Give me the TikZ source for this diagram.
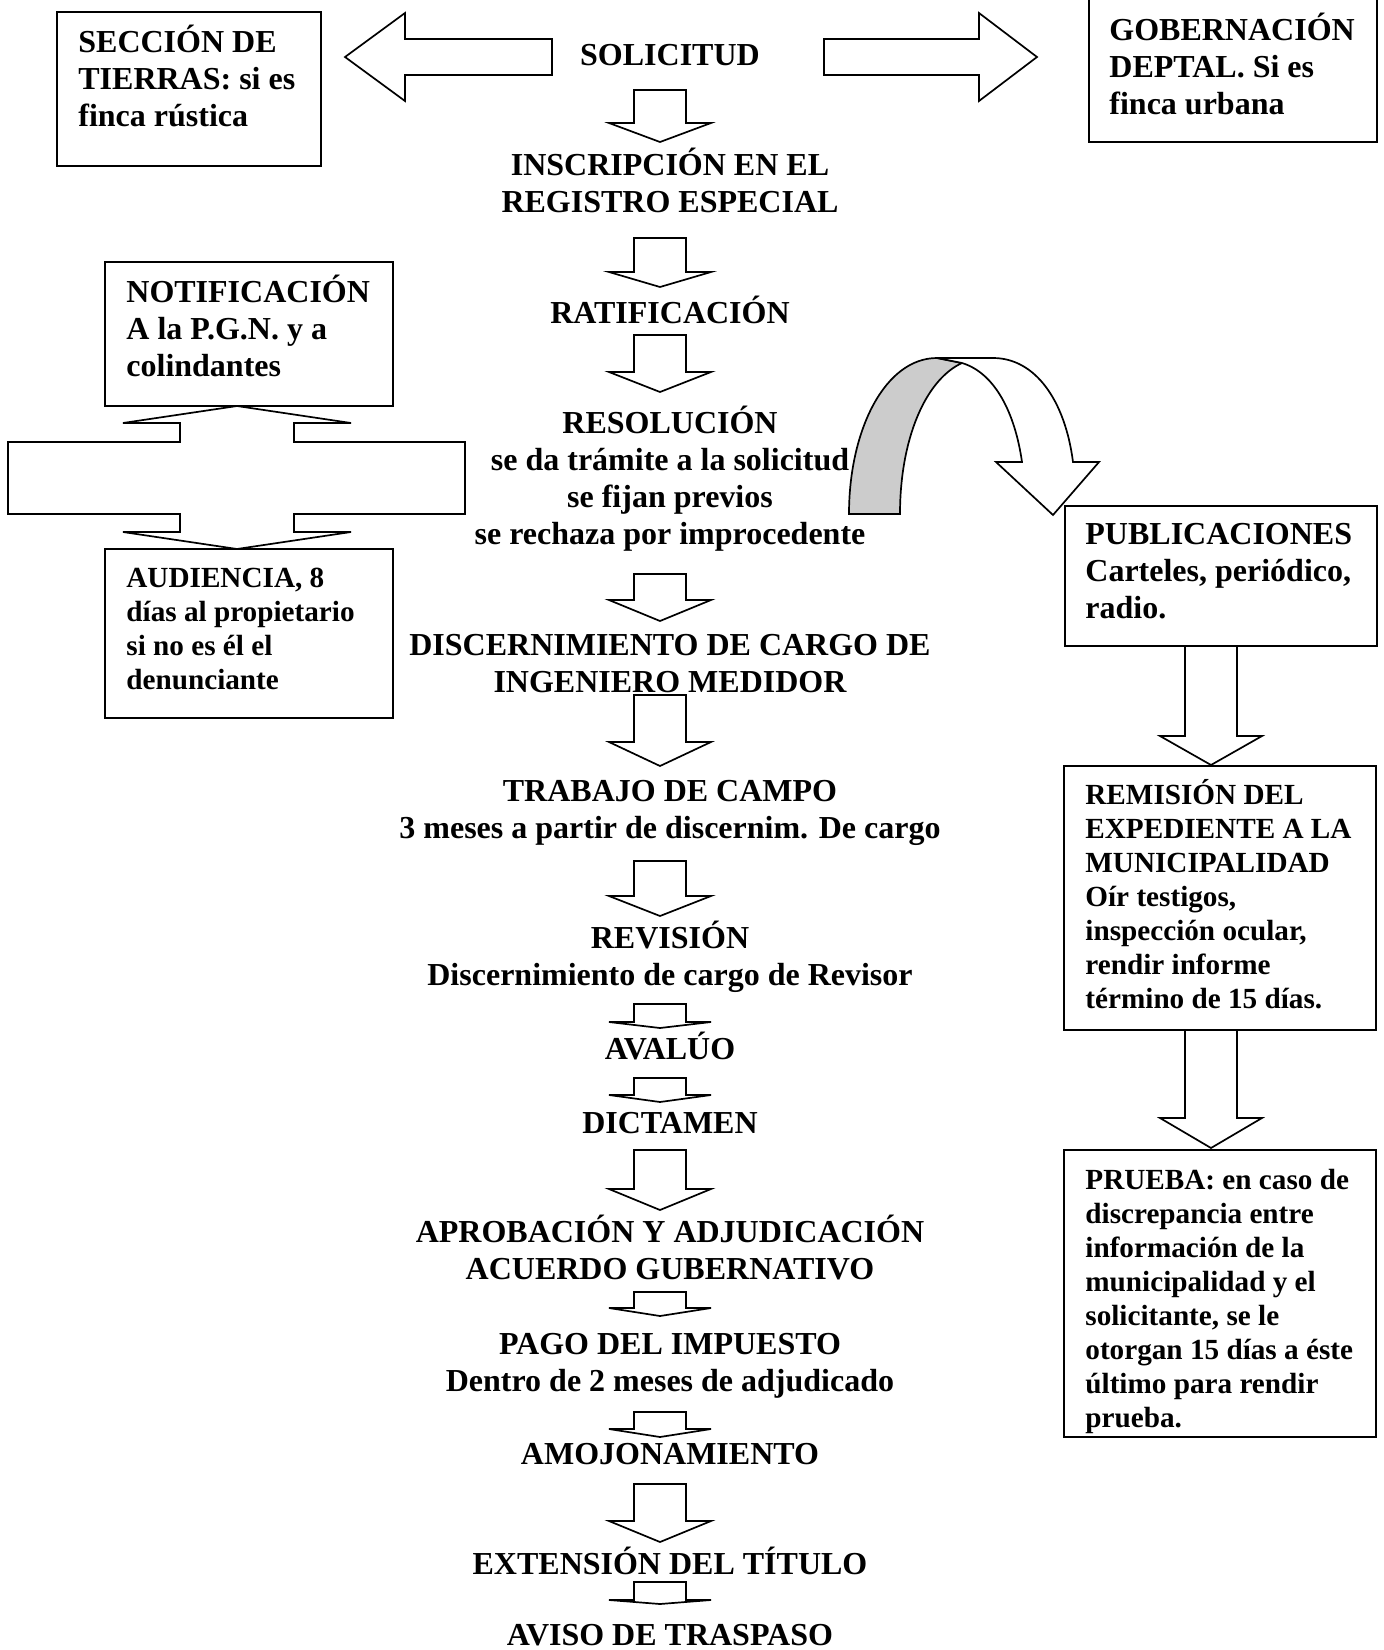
\documentclass[tikz,border=0pt]{standalone}
\usepackage{fontspec}
\setmainfont{Liberation Serif}
\usetikzlibrary{fit}
% multi-line text whose reference point is the baseline of the first line
\newcommand{\stackc}[1]{\begin{tabular}[t]{@{}c@{}}#1\end{tabular}}
\newcommand{\stackl}[1]{\begin{tabular}[t]{@{}l@{}}#1\end{tabular}}
% hollow block arrow pointing down: centre x, shaft top, head base, tip
\newcommand{\blockdown}[4]{%
  \draw[blk] (#1-26,#2) -- (#1+26,#2) -- (#1+26,#3) -- (#1+51,#3) -- (#1,#4)
    -- (#1-51,#3) -- (#1-26,#3) -- cycle;}
\begin{document}
\begin{tikzpicture}[x=0.5pt,y=-0.5pt,
  big/.style={font=\fontsize{16pt}{18.5pt}\selectfont\bfseries,inner sep=0pt,anchor=base},
  bigl/.style={big,anchor=base west},
  small/.style={font=\fontsize{14.6pt}{17pt}\selectfont\bfseries,inner sep=0pt,anchor=base west},
  framebox/.style={draw,line width=1pt,inner sep=0pt},
  blk/.style={draw,line width=0.85pt,line join=miter,fill=white},
  shadedband/.style={draw,line width=0.85pt,fill=black!20}]
\useasboundingbox (0,0) rectangle (1383,1650);
\clip (0,0) rectangle (1383,1650);

% ---- side boxes ----
\node[framebox,fit={(57,12) (321,166)}] (secc) {};
\node[bigl] (secct) at (78,52) {\stackl{SECCIÓN DE\\TIERRAS: si es\\finca rústica}};
\node[framebox,fit={(1089,-10) (1377,142)}] (gob) {};
\node[bigl] (gobt) at (1109,40) {\stackl{GOBERNACIÓN\\DEPTAL. Si es\\finca urbana}};
\node[framebox,fit={(105,262) (393,406)}] (notif) {};
\node[bigl] (notift) at (126,302) {\stackl{NOTIFICACIÓN\\A la P.G.N. y a\\colindantes}};
\node[framebox,fit={(105,549) (393,718)}] (aud) {};
\node[small] (audt) at (126,587) {\stackl{AUDIENCIA, 8\\días al propietario\\si no es él el\\denunciante}};
\node[framebox,fit={(1065,506) (1377,646)}] (publ) {};
\node[bigl] (publt) at (1085,544) {\stackl{PUBLICACIONES\\Carteles, periódico,\\radio.}};
\node[framebox,fit={(1064,766) (1376,1030)}] (rem) {};
\node[small] (remt) at (1085,804) {\stackl{REMISIÓN DEL\\EXPEDIENTE A LA\\MUNICIPALIDAD\\Oír testigos,\\inspección ocular,\\rendir informe\\término de 15 días.}};
\node[framebox,fit={(1064,1150) (1376,1437)}] (prueba) {};
\node[small] (pruebat) at (1085,1189) {\stackl{PRUEBA: en caso de\\discrepancia entre\\información de la\\municipalidad y el\\solicitante, se le\\otorgan 15 días a éste\\último para rendir\\prueba.}};

% ---- central sequence ----
\node[big] (sol) at (670,65) {SOLICITUD};
\node[big] (insc) at (670,175) {\stackc{INSCRIPCIÓN EN EL\\REGISTRO ESPECIAL}};
\node[big] (rat) at (670,323) {RATIFICACIÓN};
\node[big] (res) at (670,433) {\stackc{RESOLUCIÓN\\se da trámite a la solicitud\\se fijan previos\\se rechaza por improcedente}};
\node[big] (disc) at (670,655) {\stackc{DISCERNIMIENTO DE CARGO DE\\INGENIERO MEDIDOR}};
\node[big] (trab) at (670,801) {\stackc{TRABAJO DE CAMPO\\3 meses a partir de discernim. De cargo}};
\node[big] (rev) at (670,948) {\stackc{REVISIÓN\\Discernimiento de cargo de Revisor}};
\node[big] (aval) at (670,1059) {AVALÚO};
\node[big] (dict) at (670,1133) {DICTAMEN};
\node[big] (aprob) at (670,1242) {\stackc{APROBACIÓN Y ADJUDICACIÓN\\ACUERDO GUBERNATIVO}};
\node[big] (pago) at (670,1354) {\stackc{PAGO DEL IMPUESTO\\Dentro de 2 meses de adjudicado}};
\node[big] (amoj) at (670,1464) {AMOJONAMIENTO};
\node[big] (ext) at (670,1574) {EXTENSIÓN DEL TÍTULO};
\node[big] (aviso) at (670,1645) {AVISO DE TRASPASO};

% ---- block arrows of the central sequence ----
\blockdown{660}{90}{123}{142}
\blockdown{660}{238}{272}{287}
\blockdown{660}{335}{372}{392}
\blockdown{660}{574}{600}{621}
\blockdown{660}{695}{742}{766}
\blockdown{660}{861}{896}{916}
\blockdown{660}{1004}{1022}{1028}
\blockdown{660}{1078}{1095}{1102}
\blockdown{660}{1150}{1189}{1210}
\blockdown{660}{1292}{1308}{1316}
\blockdown{660}{1412}{1429}{1437}
\blockdown{660}{1484}{1521}{1542}
\blockdown{660}{1582}{1600}{1604}

% ---- right column arrows ----
\blockdown{1211}{646}{736}{765}
\blockdown{1211}{1030}{1118}{1148}

% ---- arrows from SOLICITUD to both offices ----
\draw[blk] (552,39) -- (405,39) -- (405,13) -- (345,57) -- (405,101) -- (405,75) -- (552,75) -- cycle;
\draw[blk] (824,39) -- (979,39) -- (979,13) -- (1037,57) -- (979,101) -- (979,75) -- (824,75) -- cycle;

% ---- two-headed arrow between notification and hearing ----
\draw[blk] (237,406) -- (351,423) -- (294,423) -- (294,442) -- (465,442) -- (465,514)
  -- (294,514) -- (294,532) -- (351,532) -- (237,549) -- (123,532) -- (180,532)
  -- (180,514) -- (8,514) -- (8,442) -- (180,442) -- (180,423) -- (123,423) -- cycle;

% ---- curved arrow from the resolution to the publications ----
\draw[shadedband] (849,514) .. controls (849,430) and (885,358) .. (937,358)
  -- (962,363) .. controls (925,380) and (900,440) .. (900,514) -- cycle;
\draw[blk] (937,358) -- (993,358) .. controls (1035,358) and (1065,400) .. (1073,462)
  -- (1099,462) -- (1053,515) -- (996,462) -- (1022,462)
  .. controls (1015,413) and (995,373) .. (962,363) -- cycle;
\end{tikzpicture}
\end{document}
